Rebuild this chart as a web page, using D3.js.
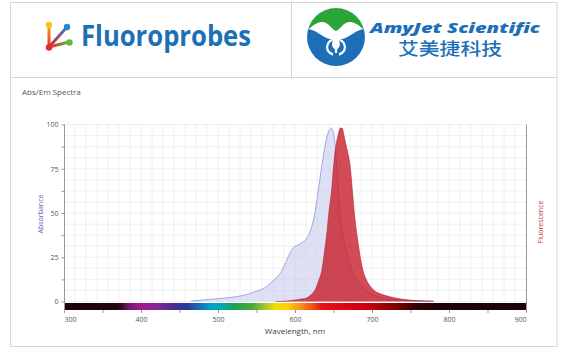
<!DOCTYPE html>
<html><head><meta charset="utf-8">
<script src="https://cdn.jsdelivr.net/npm/d3@7/dist/d3.min.js"></script>
<style>body{margin:0;background:#fff}svg{display:block}</style>
</head><body><svg id="c" width="566" height="351"></svg>
<script>
// ---- data ----
const absWl  = [465,480,495,510,525,540,550,560,570,577,583,588,593,598,604,610,615,620,625,630,635,640,644,647,650,652,655,658,662,667,673,680,690,700,715,740,780];
const absVal = [0.3,0.8,1.4,2.0,2.8,4.3,5.8,7.5,11,14,17.5,22,27,30.5,32,33.5,35.5,40,48,62,77,90,96.5,98,95,89,70,52,38,28,19,13,7,4,1.8,0.6,0.3];
const emWl   = [575,590,600,610,615,620,626,631,635,638,641,644,648,650,653,656,659,661,664,667,669,672,674,676,678,681,684,688,693,698,702,710,723,735,749,765,780];
const emVal  = [0,0.3,0.8,1.5,2,3.5,6.5,12,18,27,37,50,65,76,87.5,94,98,98,93,87,83,75,65,55,46,36,27,18,12,8.5,6.5,4.5,2.7,1.6,0.8,0.3,0];
const yTickVals = [0,25,50,75,100];
const xTickVals = [300,400,500,600,700,800,900];
const specNm  = [300,370,385,400,420,440,460,475,490,505,520,545,560,575,590,605,620,635,680,700,730,755,780,900];
const specCol = ["#1a0308","#1e0510","#7a1870","#9a1c8c","#8a2590","#4a2d8e","#2a3a9a","#1a6ab8","#00a0cc","#00aab0","#20a050","#4aab3a","#9cc43a","#f0e000","#ffd000","#f59a20","#f06010","#e8101a","#d80010","#c00008","#800000","#3a0008","#200008","#1a0005"];

const svg = d3.select("#c");
svg.append("rect").attr("width",566).attr("height",351).attr("fill","#fff");

// frame
const fr = svg.append("g").attr("fill","none").attr("stroke","#d6d6d6");
fr.append("rect").attr("x",10.5).attr("y",2.5).attr("width",546.5).attr("height",344);
fr.append("line").attr("x1",10.5).attr("x2",557).attr("y1",77.5).attr("y2",77.5);
fr.append("line").attr("x1",291.5).attr("x2",291.5).attr("y1",2.5).attr("y2",77.5);

// ---- Fluoroprobes logo ----
const defs = svg.append("defs");
const lg = svg.append("g");
const stems = [[49,47,49,26,"#f7a21b"],[49,47,67,27,"#2a7fc0"],[49,47,69,42,"#5cb83a"]];
stems.forEach((s,i)=>{
  const gid="stem"+i;
  const g=defs.append("linearGradient").attr("id",gid).attr("gradientUnits","userSpaceOnUse")
    .attr("x1",s[0]).attr("y1",s[1]).attr("x2",s[2]).attr("y2",s[3]);
  g.append("stop").attr("offset",0).attr("stop-color","#e8262f");
  g.append("stop").attr("offset",1).attr("stop-color",s[4]);
  lg.append("line").attr("x1",s[0]).attr("y1",s[1]).attr("x2",s[2]).attr("y2",s[3])
    .attr("stroke","url(#"+gid+")").attr("stroke-width",3).attr("stroke-linecap","round");
});
[[49,25,"#f9c31a"],[67,27,"#1e88c8"],[69.5,42.5,"#62bb3a"],[49,47.5,"#e32a35"]].forEach(d=>{
  lg.append("circle").attr("cx",d[0]).attr("cy",d[1]).attr("r",3.2).attr("fill",d[2]);
});
lg.append("text").attr("x",81).attr("y",46).text("Fluoroprobes")
  .attr("font-family","Open Sans").attr("font-weight",700).attr("font-size",29)
  .attr("fill","#1c70b8").attr("textLength",170).attr("lengthAdjust","spacingAndGlyphs");

// ---- AmyJet logo ----
const ag = svg.append("g");
const cx=336, cy=37, r=29;
defs.append("clipPath").attr("id","circ").append("circle").attr("cx",cx).attr("cy",cy).attr("r",r);
const cg = ag.append("g").attr("clip-path","url(#circ)");
cg.append("path").attr("fill","#2aa639")
  .attr("d",`M300,0 H372 V33 C364,32 358,22 350,22 C343,22 340,30 336,31 C332,30 329,22 322,22 C314,22 308,32 300,33 Z`);
cg.append("path").attr("fill","#1c6fb7")
  .attr("d",`M300,70 H372 V30 C366,28 360,29 354,33 C346,38 342,40 336,40 C330,40 326,38 318,33 C312,29 306,28 300,30 Z`);
ag.append("ellipse").attr("cx",cx).attr("cy",47).attr("rx",9).attr("ry",8).attr("fill","none").attr("stroke","#fff").attr("stroke-width",2.2);
ag.append("path").attr("fill","#fff").attr("d",`M336,37 C341,41 341,47 337.2,49 V56 H334.8 V49 C331,47 331,41 336,37 Z`);
ag.append("rect").attr("x",333).attr("y",53).attr("width",6).attr("height",3).attr("fill","#1c6fb7");
ag.append("text").attr("x",370).attr("y",33).text("AmyJet Scientific")
  .attr("font-family","Open Sans").attr("font-weight",800).attr("font-style","italic").attr("font-size",14)
  .attr("fill","#1c6fb7").attr("textLength",170).attr("lengthAdjust","spacingAndGlyphs");
ag.append("text").attr("x",398).attr("y",55).text("艾美捷科技")
  .attr("font-family","Noto Sans CJK SC").attr("font-weight",500).attr("font-size",17)
  .attr("fill","#1c6fb7").attr("textLength",104).attr("lengthAdjust","spacingAndGlyphs");

// ---- chart ----
svg.append("text").attr("x",22).attr("y",94.5).text("Abs/Em Spectra")
  .attr("font-family","Open Sans").attr("font-size",8).attr("fill","#555");

const x = d3.scaleLinear().domain([300,900]).range([64,526]);
const y = d3.scaleLinear().domain([0,100]).range([301.5,124.5]);

// grid
const grid = svg.append("g").attr("stroke","#ececec").attr("stroke-width",0.8);
d3.range(1,42).forEach(k=>{
  const xv = x(300+k*600/42);
  grid.append("line").attr("x1",xv).attr("x2",xv).attr("y1",y(100)).attr("y2",y(0));
});
d3.range(0,17).forEach(k=>{
  const yv = y(k*6.25);
  grid.append("line").attr("x1",x(300)).attr("x2",x(900)).attr("y1",yv).attr("y2",yv);
});

// curves
const absData = absWl.map((w,i)=>({w,v:absVal[i]}));
const emData  = emWl.map((w,i)=>({w,v:emVal[i]}));
const area = d3.area().x(d=>x(d.w)).y0(y(0)).y1(d=>y(d.v)).curve(d3.curveMonotoneX);
const line = d3.line().x(d=>x(d.w)).y(d=>y(d.v)).curve(d3.curveMonotoneX);
svg.append("path").datum(absData).attr("d",area).attr("fill","#c3c9ee").attr("fill-opacity",0.55);
svg.append("path").datum(absData).attr("d",line).attr("fill","none").attr("stroke","#8c94d6").attr("stroke-width",0.8);
svg.append("path").datum(emData).attr("d",area).attr("fill","#c81e2a").attr("fill-opacity",0.8);
svg.append("path").datum(emData).attr("d",line).attr("fill","none").attr("stroke","#b0202c").attr("stroke-width",0.6);

// spectrum bar
const sg = defs.append("linearGradient").attr("id","spec").attr("gradientUnits","userSpaceOnUse")
  .attr("x1",x(300)).attr("x2",x(900)).attr("y1",0).attr("y2",0);
specNm.forEach((n,i)=>sg.append("stop").attr("offset",(n-300)/600).attr("stop-color",specCol[i]));
svg.append("rect").attr("x",x(300)).attr("y",303).attr("width",x(900)-x(300)).attr("height",7).attr("fill","url(#spec)");

// y axis
const yAxis = svg.append("g").attr("transform",`translate(${x(300)},0)`)
  .call(d3.axisLeft(y).tickValues(yTickVals).tickSize(2.5).tickPadding(3));
svg.append("g").attr("transform",`translate(${x(300)},0)`)
  .call(d3.axisLeft(y).tickValues(d3.range(12.5,100,25)).tickSize(2.5).tickFormat(""))
  .select(".domain").remove();
svg.selectAll(".tick line").attr("stroke","#999");
yAxis.select(".domain").remove();
svg.append("line").attr("x1",x(300)+0.5).attr("x2",x(300)+0.5).attr("y1",y(100)).attr("y2",310).attr("stroke","#999");
svg.append("line").attr("x1",x(900)+0.5).attr("x2",x(900)+0.5).attr("y1",y(100)).attr("y2",310).attr("stroke","#999");
yAxis.selectAll("text").attr("font-family","Open Sans").attr("font-size",7).attr("fill","#555");

// x axis
const xAxis = svg.append("g").attr("transform","translate(0,310)")
  .call(d3.axisBottom(x).tickValues(d3.range(300,901,50)).tickSize(3).tickPadding(4)
     .tickFormat(d=>xTickVals.includes(d)?d:""));
xAxis.select(".domain").remove();
xAxis.selectAll(".tick line").attr("stroke","#999");
xAxis.selectAll("text").attr("font-family","Open Sans").attr("font-size",7).attr("fill","#555")
  .attr("text-anchor",d=>d===300?"start":d===900?"end":"middle");

svg.append("text").attr("x",295).attr("y",334).attr("text-anchor","middle").text("Wavelength, nm")
  .attr("font-family","Open Sans").attr("font-size",8).attr("fill","#444");
svg.append("text").attr("transform","translate(43,214) rotate(-90)").attr("text-anchor","middle").text("Absorbance")
  .attr("font-family","Open Sans").attr("font-size",7).attr("fill","#5a60c4");
svg.append("text").attr("transform","translate(542.5,222) rotate(-90)").attr("text-anchor","middle").text("Fluorescence")
  .attr("font-family","Open Sans").attr("font-size",7).attr("fill","#c4303a");
</script></body></html>
